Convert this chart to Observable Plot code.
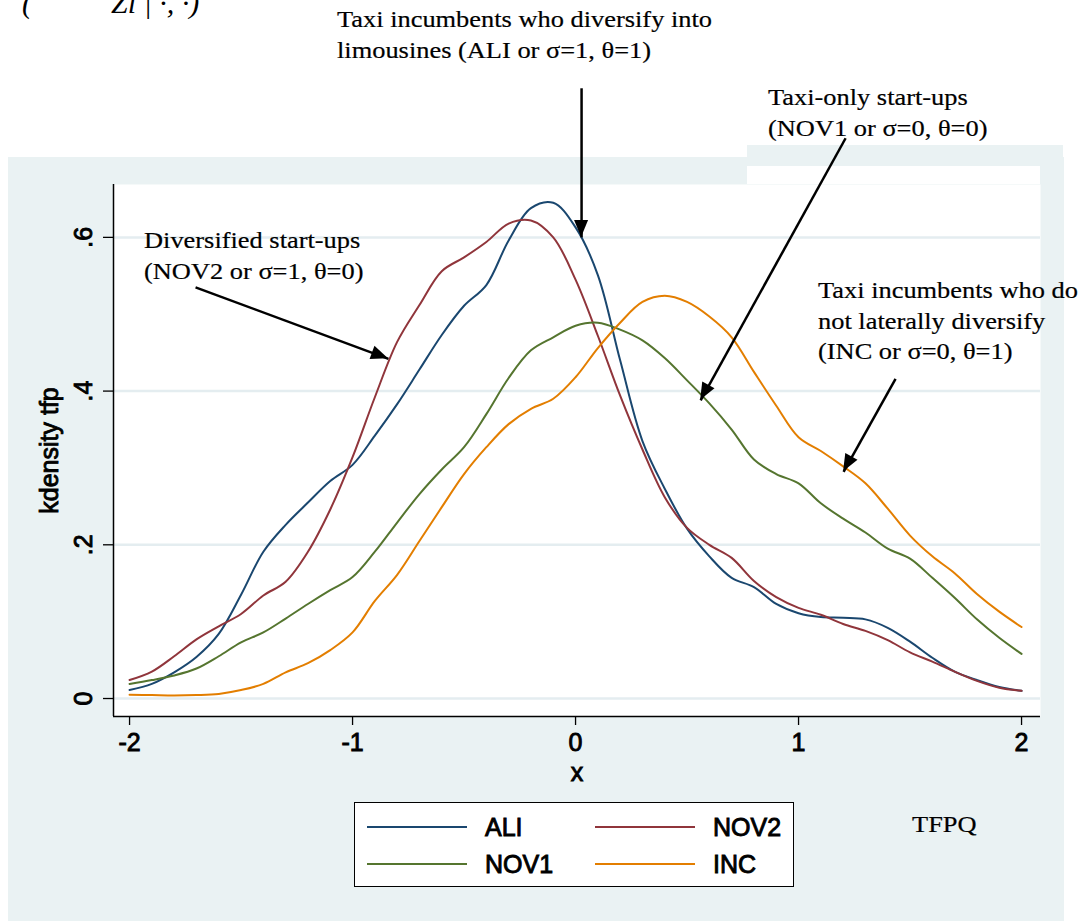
<!DOCTYPE html>
<html>
<head>
<meta charset="utf-8">
<script src="https://cdn.jsdelivr.net/npm/d3@7"></script>
<script src="https://cdn.jsdelivr.net/npm/@observablehq/plot@0.6"></script>
<style>
html, body { margin: 0; padding: 0; background: #fff; }
#page { position: relative; width: 1083px; height: 921px; overflow: hidden; background: #fff; }
.bg { position: absolute; background: #EAF2F3; }
.wh { position: absolute; background: #fff; }
.note { position: absolute; font-family: "Liberation Serif", "Times New Roman", serif; font-size: 24px; line-height: 30.5px; color: #000; white-space: nowrap; transform-origin: 0 0; transform: scaleX(1.1); -webkit-text-stroke: 0.2px #000; }
.frag { position: absolute; font-family: "Liberation Serif", serif; font-style: italic; font-size: 30px; line-height: 30px; white-space: nowrap; color: #000; }
#chart { position: absolute; left: 0; top: 0; }
#chart svg text { stroke: #000; stroke-width: 0.9px; paint-order: stroke; }
.legend { position: absolute; left: 354px; top: 802px; width: 440px; height: 85px; background: #fff; border: 1.5px solid #000; box-sizing: border-box; }
.legend .sw { position: absolute; width: 100px; height: 2px; }
.legend .lb { position: absolute; font-family: "Liberation Sans", Arial, sans-serif; font-size: 25px; line-height: 25px; color: #000; -webkit-text-stroke: 0.9px #000; white-space: nowrap; }
</style>
</head>
<body>
<div id="page">
  <div class="bg" style="left:8px;top:157px;width:1056px;height:764px;"></div>
  <div class="bg" style="left:747px;top:145px;width:316px;height:12px;"></div>
  <div class="wh" style="left:747px;top:166px;width:293px;height:18px;"></div>
  <div id="chart"></div>
  <div class="frag" style="left:22px;top:-12px;">(</div>
  <div class="frag" style="left:111px;top:-12px;">Zi | ·, ·)</div>
  <div class="note" style="left:337px;top:4px;">Taxi incumbents who diversify into<br>limousines (ALI or σ=1, θ=1)</div>
  <div class="note" style="left:768px;top:82px;">Taxi-only start-ups<br>(NOV1 or σ=0, θ=0)</div>
  <div class="note" style="left:144px;top:225px;">Diversified start-ups<br>(NOV2 or σ=1, θ=0)</div>
  <div class="note" style="left:818px;top:275px;">Taxi incumbents who do<br>not laterally diversify<br>(INC or σ=0, θ=1)</div>
  <div class="note" style="left:912px;top:809px;">TFPQ</div>
  <div class="legend" id="legend"></div>
</div>
<script>
// ---- data ----
const xGrid = [-2,-1.9,-1.8,-1.7,-1.6,-1.5,-1.4,-1.3,-1.2,-1.1,-1,-0.9,-0.8,-0.7,-0.6,-0.5,-0.4,-0.3,-0.2,-0.1,0,0.1,0.2,0.3,0.4,0.5,0.6,0.7,0.8,0.9,1,1.1,1.2,1.3,1.4,1.5,1.6,1.7,1.8,1.9,2];
const ALI  = [0.011,0.019,0.034,0.054,0.084,0.135,0.191,0.226,0.255,0.283,0.304,0.342,0.383,0.428,0.473,0.511,0.538,0.596,0.638,0.645,0.613,0.551,0.440,0.335,0.273,0.221,0.185,0.157,0.145,0.123,0.111,0.106,0.105,0.103,0.092,0.074,0.053,0.035,0.024,0.015,0.010];
const NOV2 = [0.024,0.035,0.055,0.077,0.094,0.110,0.134,0.152,0.191,0.246,0.314,0.392,0.464,0.512,0.556,0.574,0.594,0.618,0.622,0.600,0.545,0.472,0.394,0.324,0.262,0.222,0.200,0.183,0.153,0.132,0.118,0.109,0.097,0.088,0.076,0.060,0.048,0.035,0.023,0.014,0.010];
const NOV1 = [0.019,0.024,0.030,0.039,0.055,0.073,0.086,0.104,0.123,0.141,0.158,0.191,0.229,0.266,0.298,0.327,0.370,0.417,0.453,0.470,0.485,0.489,0.480,0.466,0.443,0.414,0.384,0.350,0.311,0.292,0.280,0.254,0.234,0.216,0.195,0.182,0.157,0.131,0.103,0.079,0.058];
const INC  = [0.005,0.0045,0.004,0.0045,0.006,0.011,0.019,0.034,0.046,0.063,0.086,0.127,0.161,0.205,0.249,0.292,0.327,0.357,0.377,0.390,0.418,0.456,0.489,0.516,0.524,0.516,0.497,0.470,0.425,0.381,0.340,0.322,0.302,0.280,0.247,0.212,0.185,0.163,0.136,0.113,0.093];
const seriesNames = ["ALI", "NOV2", "NOV1", "INC"];
const seriesColors = ["#1A476F", "#90353B", "#55752F", "#E37E00"];
const xTicks = [-2, -1, 0, 1, 2];
const yTicks = [0, 0.2, 0.4, 0.6];
// annotation arrows: tail (x1,y1) -> head (x2,y2), in data units
const arrows = [
  {x1: 0.027, y1: 0.794, x2: 0.027, y2: 0.600},
  {x1: 1.211, y1: 0.729, x2: 0.561, y2: 0.388},
  {x1: -1.704, y1: 0.535, x2: -0.839, y2: 0.442},
  {x1: 1.435, y1: 0.416, x2: 1.202, y2: 0.295}
];

const seriesValues = [ALI, NOV2, NOV1, INC];
const rows = seriesNames.flatMap((name, k) => xGrid.map((x, i) => ({x, y: seriesValues[k][i], series: name})));

const xDomain = [-2.072, 2.085];
const yDomain = [-0.0234, 0.6688];

const plot = Plot.plot({
  width: 1083,
  height: 921,
  marginTop: 184,
  marginBottom: 205,
  marginLeft: 113,
  marginRight: 43,
  style: {background: "transparent", fontFamily: "'Liberation Sans', Arial, sans-serif", overflow: "visible"},
  x: {domain: xDomain},
  y: {domain: yDomain},
  color: {domain: seriesNames, range: seriesColors},
  marks: [
    Plot.frame({fill: "white", stroke: null}),
    Plot.ruleY(yTicks, {stroke: "#E4EDF0", strokeWidth: 2.5}),
    Plot.line(rows, {x: "x", y: "y", z: "series", stroke: "series", strokeWidth: 2, curve: "catmull-rom"}),
    Plot.ruleX([xDomain[0]], {stroke: "black", strokeWidth: 1.5}),
    Plot.ruleY([yDomain[0]], {stroke: "black", strokeWidth: 1.5}),
    Plot.axisX({ticks: xTicks, tickSize: 9, tickPadding: 8, fontSize: 25, strokeWidth: 1.3,
      tickFormat: d => String(d), label: "x", labelAnchor: "center", labelOffset: 64, labelArrow: "none"}),
    Plot.axisY({ticks: yTicks, tickSize: 10, tickPadding: 12, tickRotate: -90, fontSize: 25, strokeWidth: 1.3,
      tickFormat: d => d === 0 ? "0" : String(d).replace(/^0/, ""),
      label: "kdensity tfp", labelAnchor: "center", labelOffset: 73, labelArrow: "none"}),
    Plot.link(arrows, {x1: "x1", y1: "y1", x2: "x2", y2: "y2", stroke: "black", strokeWidth: 2.5})
  ]
});

// filled arrow heads, positioned through the plot's own scales
const sx = plot.scale("x"), sy = plot.scale("y");
const heads = d3.select(plot).append("g");
for (const a of arrows) {
  const x1 = sx.apply(a.x1), y1 = sy.apply(a.y1), x2 = sx.apply(a.x2), y2 = sy.apply(a.y2);
  const ang = Math.atan2(y2 - y1, x2 - x1);
  const L = 17, W = 7;
  const bx = x2 - L * Math.cos(ang), by = y2 - L * Math.sin(ang);
  const px = -Math.sin(ang) * W, py = Math.cos(ang) * W;
  heads.append("polygon")
    .attr("points", `${x2},${y2} ${bx + px},${by + py} ${bx - px},${by - py}`)
    .attr("fill", "black");
}
document.getElementById("chart").appendChild(plot);

// legend (2 x 2, row-wise)
const legend = document.getElementById("legend");
const lineLeft = [12, 240], textLeft = [130, 358], rowY = [24, 61];
seriesNames.forEach((name, k) => {
  const col = k % 2, row = Math.floor(k / 2);
  const sw = document.createElement("div");
  sw.className = "sw";
  sw.style.left = lineLeft[col] + "px";
  sw.style.top = (rowY[row] - 1) + "px";
  sw.style.background = seriesColors[k];
  legend.appendChild(sw);
  const lb = document.createElement("div");
  lb.className = "lb";
  lb.style.left = textLeft[col] + "px";
  lb.style.top = (rowY[row] - 12) + "px";
  lb.textContent = name;
  legend.appendChild(lb);
});
</script>
</body>
</html>
